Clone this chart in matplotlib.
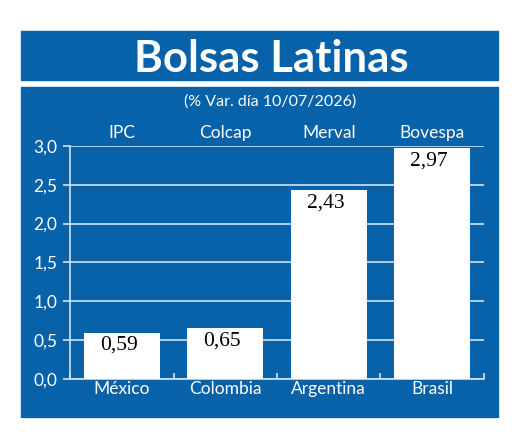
import numpy as np
import matplotlib
matplotlib.use("Agg")
from matplotlib import pyplot as plt
from matplotlib.patches import Rectangle

paises = ["México", "Colombia", "Argentina", "Brasil"]
indices = ["IPC", "Colcap", "Merval", "Bovespa"]
variacion = [0.59, 0.65, 2.43, 2.97]
yticks = [0.0, 0.5, 1.0, 1.5, 2.0, 2.5, 3.0]

azul = "#0762AA"
linea = "#CFE4F6"
W, H = 520, 442

fig = plt.figure(figsize=(W / 100, H / 100), dpi=100)
fig.patch.set_facecolor("white")

# fondo: franja del titulo y panel (debajo de los ejes)
fig.patches.append(Rectangle((21 / W, 1 - 80 / H), 477 / W, 49 / H,
                             transform=fig.transFigure, color=azul, zorder=-5))
fig.patches.append(Rectangle((21 / W, 1 - 417 / H), 477 / W, 330 / H,
                             transform=fig.transFigure, color=azul, zorder=-5))

fig.text(271 / W, 1 - 59 / H, "Bolsas Latinas", color="white",
         fontsize=31.5, fontweight="bold", family="Lato",
         ha="center", va="center")
fig.text(270 / W, 1 - 102 / H, "(% Var. día 10/07/2026)", color="white",
         fontsize=11.5, family="Lato", ha="center", va="center")

ax = fig.add_axes([70 / W, 1 - 378.7 / H, 414 / W, 232.7 / H])
ax.set_facecolor("none")
x = np.arange(len(paises))
ax.bar(x, variacion, width=0.73, color="white", zorder=3)
ax.set_xlim(-0.5, 3.5)
ax.set_ylim(0, 3.0)

ax.set_yticks(yticks)
ax.set_yticklabels([f"{v:.1f}".replace(".", ",") for v in yticks],
                   color="white", fontsize=12.5, family="Lato")
ax.grid(axis="y", color=linea, linewidth=1.2, zorder=1)
ax.tick_params(axis="y", colors=linea, length=5, width=1.2, pad=4,
               labelcolor="white")

ax.set_xticks(np.arange(-0.5, 4.0, 1.0))
ax.set_xticklabels([])
ax.tick_params(axis="x", direction="in", colors=linea, length=4, width=1.2)

for s in ["top", "right"]:
    ax.spines[s].set_visible(False)
for s in ["left", "bottom"]:
    ax.spines[s].set_color(linea)
    ax.spines[s].set_linewidth(1.2)

for i, (p, ind, v) in enumerate(zip(paises, indices, variacion)):
    ax.text(i, -0.035, p, color="white", fontsize=12.5, family="Lato",
            ha="center", va="top")
    ax.text(i, 3.07, ind, color="white", fontsize=12.5, family="Lato",
            ha="center", va="bottom")
    ax.text(i - 0.03, v - 0.04, f"{v:.2f}".replace(".", ","), color="black",
            fontsize=15.5, family="Liberation Serif", ha="center", va="top",
            zorder=4)

fig.savefig("out.png", dpi=100, facecolor="white")
